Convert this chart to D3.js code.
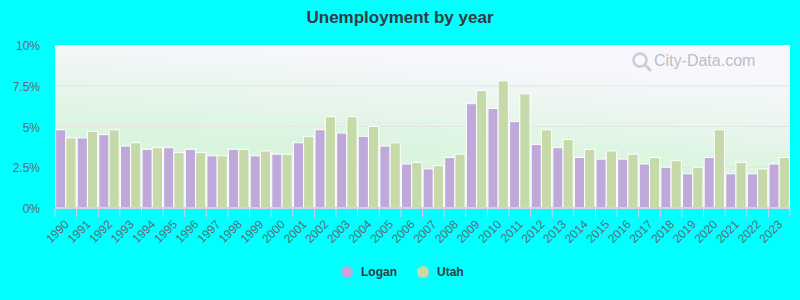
<!DOCTYPE html>
<html>
<head>
<meta charset="utf-8">
<script src="https://cdn.jsdelivr.net/npm/d3@7"></script>
<style>
  body { margin: 0; background: #00ffff; }
  svg { display: block; font-family: Arial, "Liberation Sans", sans-serif; }
</style>
</head>
<body>
<div id="chart"></div>
<script>
// Input data
const years = ['1990', '1991', '1992', '1993', '1994', '1995', '1996', '1997', '1998', '1999',
  '2000', '2001', '2002', '2003', '2004', '2005', '2006', '2007', '2008', '2009',
  '2010', '2011', '2012', '2013', '2014', '2015', '2016', '2017', '2018', '2019',
  '2020', '2021', '2022', '2023'];
const logan = [4.8, 4.3, 4.5, 3.8, 3.6, 3.7, 3.6, 3.2, 3.6, 3.2,
  3.3, 4.0, 4.8, 4.6, 4.4, 3.8, 2.7, 2.4, 3.1, 6.4,
  6.1, 5.3, 3.9, 3.7, 3.1, 3.0, 3.0, 2.7, 2.5, 2.1,
  3.1, 2.1, 2.1, 2.7];
const utah = [4.3, 4.7, 4.8, 4.0, 3.7, 3.4, 3.4, 3.2, 3.6, 3.5,
  3.3, 4.4, 5.6, 5.6, 5.0, 4.0, 2.8, 2.6, 3.3, 7.2,
  7.8, 7.0, 4.8, 4.2, 3.6, 3.5, 3.3, 3.1, 2.9, 2.5,
  4.8, 2.8, 2.4, 3.1];
const yTicks = [0, 2.5, 5, 7.5, 10];
const seriesNames = ['Logan', 'Utah'];
const colors = ['#bea9da', '#c5d9a9'];

const width = 800;
const height = 300;
const margin = { top: 45, right: 10, bottom: 92, left: 55 };

const svg = d3.select('#chart')
  .append('svg')
  .attr('width', width)
  .attr('height', height);

// plot background gradient
const defs = svg.append('defs');
const grad = defs.append('linearGradient')
  .attr('id', 'bg')
  .attr('x1', '0').attr('y1', '1')
  .attr('x2', '0.3').attr('y2', '0');
grad.append('stop').attr('offset', '0%').attr('stop-color', '#cdf4d2');
grad.append('stop').attr('offset', '50%').attr('stop-color', '#dcf5e1');
grad.append('stop').attr('offset', '100%').attr('stop-color', '#f8f7fd');

const x = d3.scaleBand()
  .domain(years)
  .range([margin.left, width - margin.right]);

const inner = d3.scaleBand()
  .domain(seriesNames)
  .range([0, x.bandwidth()])
  .paddingInner(0)
  .paddingOuter(0.06);

const y = d3.scaleLinear()
  .domain([0, 10])
  .range([height - margin.bottom, margin.top]);

svg.append('rect')
  .attr('x', margin.left)
  .attr('y', margin.top)
  .attr('width', width - margin.left - margin.right)
  .attr('height', height - margin.top - margin.bottom)
  .attr('fill', 'url(#bg)');

// gridlines
svg.append('g')
  .selectAll('line')
  .data(yTicks.filter(d => d > 0 && d < 10))
  .enter()
  .append('line')
  .attr('x1', margin.left)
  .attr('x2', width - margin.right)
  .attr('y1', d => y(d))
  .attr('y2', d => y(d))
  .attr('stroke', '#e4e4e4')
  .attr('stroke-width', 1);

// watermark
const wm = svg.append('g')
  .attr('transform', 'translate(640, 60)')
  .attr('opacity', 0.6);
wm.append('circle').attr('cx', 0).attr('cy', 0).attr('r', 6.5)
  .attr('fill', 'none').attr('stroke', '#a9b3bb').attr('stroke-width', 2.5);
wm.append('line').attr('x1', 5).attr('y1', 5).attr('x2', 11).attr('y2', 11)
  .attr('stroke', '#a9b3bb').attr('stroke-width', 3);
wm.append('text')
  .attr('x', 14)
  .attr('y', 6)
  .attr('font-size', 16)
  .attr('fill', '#939aa0')
  .text('City-Data.com');

// bars
const series = [logan, utah];
const groups = svg.append('g')
  .selectAll('g')
  .data(years)
  .enter()
  .append('g')
  .attr('transform', d => `translate(${x(d)},0)`);

groups.selectAll('rect')
  .data((d, i) => series.map((s, k) => ({ key: seriesNames[k], value: s[i], color: colors[k] })))
  .enter()
  .append('rect')
  .attr('x', d => inner(d.key))
  .attr('width', inner.bandwidth())
  .attr('y', d => y(d.value))
  .attr('height', d => y(0) - y(d.value))
  .attr('fill', d => d.color)
  .attr('stroke', '#ffffff')
  .attr('stroke-width', 1);

// y axis labels
svg.append('g')
  .selectAll('text')
  .data(yTicks)
  .enter()
  .append('text')
  .attr('x', margin.left - 15)
  .attr('y', d => y(d) + 1)
  .attr('dy', '0.35em')
  .attr('text-anchor', 'end')
  .attr('font-size', 12)
  .attr('fill', '#5f6b73')
  .text(d => d + '%');

// x axis
const xAxis = svg.append('g')
  .attr('transform', `translate(0,${y(0)})`);

xAxis.append('line')
  .attr('x1', margin.left)
  .attr('x2', width - margin.right)
  .attr('stroke', '#d8cfe6')
  .attr('stroke-width', 2);

xAxis.selectAll('.tick')
  .data(years.concat(['end']))
  .enter()
  .append('line')
  .attr('x1', (d, i) => margin.left + i * x.step())
  .attr('x2', (d, i) => margin.left + i * x.step())
  .attr('y1', 0)
  .attr('y2', 9)
  .attr('stroke', '#d8cfe6')
  .attr('stroke-width', 1);

xAxis.selectAll('text')
  .data(years)
  .enter()
  .append('text')
  .attr('transform', d => `translate(${x(d) + x.bandwidth() / 2 + 1},${14}) rotate(-45)`)
  .attr('text-anchor', 'end')
  .attr('dy', '0.35em')
  .attr('font-size', 12)
  .attr('fill', '#5f6b73')
  .text(d => d);

// title
svg.append('text')
  .attr('x', width / 2)
  .attr('y', 23)
  .attr('text-anchor', 'middle')
  .attr('font-size', 17)
  .attr('font-weight', 'bold')
  .attr('fill', '#333a40')
  .text('Unemployment by year');

// legend
const legend = svg.append('g')
  .selectAll('g')
  .data(seriesNames)
  .enter()
  .append('g')
  .attr('transform', (d, i) => `translate(${347 + i * 76}, 272)`);

legend.append('circle')
  .attr('r', 6)
  .attr('fill', (d, i) => colors[i]);

legend.append('text')
  .attr('x', 14)
  .attr('dy', '0.35em')
  .attr('font-size', 12)
  .attr('font-weight', 'bold')
  .attr('fill', '#333a40')
  .text(d => d);
</script>
</body>
</html>
